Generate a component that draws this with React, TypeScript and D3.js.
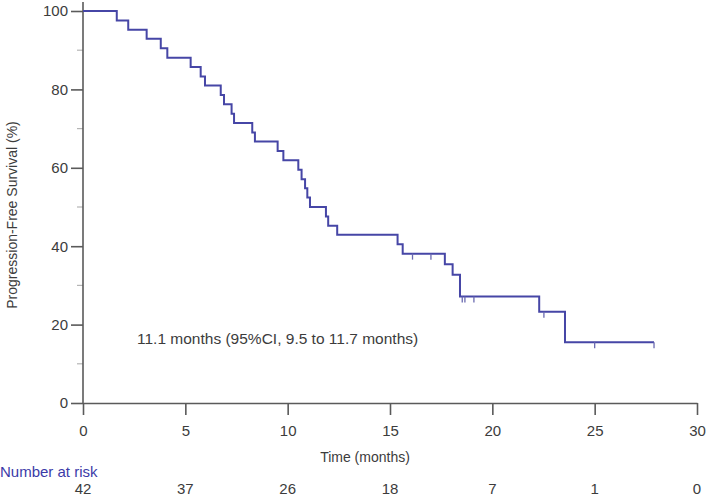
import { useEffect, useRef } from "react";
import * as d3 from "d3";

// ─── Data (read from the Kaplan–Meier plot) ───────────────────────────────────

// time of each drop (months) and survival (%) after it
const EVENT_MONTHS = [
  1.65, 2.21, 3.11, 3.8, 4.12, 5.26, 5.75, 5.96, 6.73, 6.89, 7.26, 7.38, 8.27,
  8.4, 9.51, 9.79, 10.52, 10.68, 10.85, 10.96, 11.09, 11.87, 11.98, 12.42,
  15.37, 15.62, 17.68, 18.06, 18.42, 22.29, 23.55,
];
const SURVIVAL_PCT = [
  97.6, 95.2, 92.9, 90.5, 88.1, 85.7, 83.3, 81.0, 78.6, 76.2, 73.8, 71.4, 69.0,
  66.7, 64.3, 61.9, 59.5, 57.1, 54.8, 52.4, 50.0, 47.6, 45.2, 42.9, 40.5, 38.1,
  35.4, 32.7, 27.2, 23.3, 15.5,
];
const LAST_MONTH = 27.9;
const CENSOR_MONTHS = [16.1, 17.0, 18.53, 18.66, 19.1, 22.52, 25.0, 27.9];

const RISK_MONTHS = [0, 5, 10, 15, 20, 25, 30];
const AT_RISK = [42, 37, 26, 18, 7, 1, 0];

const Y_TICKS = [0, 20, 40, 60, 80, 100];
const Y_MINOR = [10, 30, 50, 70, 90];

const MEDIAN_TEXT = "11.1 months (95%CI, 9.5 to 11.7 months)";

// ─── Palette ──────────────────────────────────────────────────────────────────

const CURVE = "#4646a6";
const AXIS = "#5a5a5a";
const INK = "#3c3c3c";
const BLUE = "#3b3ba8";
const FONT = "'Liberation Sans', Arial, sans-serif";

const W = 709,
  H = 496;

export default function App() {
  const svgRef = useRef<SVGSVGElement>(null);

  useEffect(() => {
    if (!svgRef.current) return;
    const svg = d3.select(svgRef.current);
    svg.selectAll("*").remove();

    const x = d3.scaleLinear().domain([0, 30]).range([83, 697]);
    const y = d3.scaleLinear().domain([0, 100]).range([403, 11]);

    // step points
    const pts: [number, number][] = [[0, 100]];
    EVENT_MONTHS.forEach((t, i) => pts.push([t, SURVIVAL_PCT[i]]));
    pts.push([LAST_MONTH, SURVIVAL_PCT[SURVIVAL_PCT.length - 1]]);

    const levelAt = (t: number) => {
      let s = 100;
      EVENT_MONTHS.forEach((e, i) => {
        if (e <= t) s = SURVIVAL_PCT[i];
      });
      return s;
    };

    // Y axis
    const yAx = svg.append("g").attr("transform", `translate(${x(0)},0)`);
    yAx
      .call(
        d3
          .axisLeft(y)
          .tickValues(Y_TICKS)
          .tickSize(12)
          .tickPadding(3)
          .tickFormat(d3.format("d")),
      )
      .call((ax) => {
        ax.select(".domain").remove();
        ax.selectAll(".tick line").attr("stroke", AXIS).attr("stroke-width", 1.6);
        ax.selectAll(".tick text")
          .attr("fill", INK)
          .attr("font-size", 15)
          .attr("font-family", FONT);
      });
    yAx
      .selectAll(".minor")
      .data(Y_MINOR)
      .enter()
      .append("line")
      .attr("x1", -6)
      .attr("x2", 0)
      .attr("y1", (d) => y(d))
      .attr("y2", (d) => y(d))
      .attr("stroke", "#b5b5b5")
      .attr("stroke-width", 1.2);
    yAx
      .append("line")
      .attr("x1", 0)
      .attr("x2", 0)
      .attr("y1", 2)
      .attr("y2", y(0))
      .attr("stroke", AXIS)
      .attr("stroke-width", 1.6);

    // X axis
    svg
      .append("g")
      .attr("transform", `translate(0,${y(0)})`)
      .call(
        d3
          .axisBottom(x)
          .tickValues(RISK_MONTHS)
          .tickSize(12)
          .tickPadding(10)
          .tickSizeOuter(0),
      )
      .call((ax) => {
        ax.select(".domain").attr("stroke", AXIS).attr("stroke-width", 1.6);
        ax.selectAll(".tick line").attr("stroke", AXIS).attr("stroke-width", 1.6);
        ax.selectAll(".tick text")
          .attr("fill", INK)
          .attr("font-size", 15)
          .attr("font-family", FONT);
      });

    // axis titles
    svg
      .append("text")
      .attr("transform", `translate(17,${215}) rotate(-90)`)
      .attr("text-anchor", "middle")
      .attr("font-size", 14)
      .attr("font-family", FONT)
      .attr("fill", INK)
      .text("Progression-Free Survival (%)");

    svg
      .append("text")
      .attr("x", 365)
      .attr("y", 462)
      .attr("text-anchor", "middle")
      .attr("font-size", 14)
      .attr("font-family", FONT)
      .attr("fill", INK)
      .text("Time (months)");

    // curve
    svg
      .append("path")
      .datum(pts)
      .attr("fill", "none")
      .attr("stroke", CURVE)
      .attr("stroke-width", 2)
      .attr(
        "d",
        d3
          .line()
          .x((d) => x(d[0]))
          .y((d) => y(d[1]))
          .curve(d3.curveStepAfter),
      );

    // censor marks
    svg
      .selectAll(".cens")
      .data(CENSOR_MONTHS)
      .enter()
      .append("line")
      .attr("x1", (d) => x(d))
      .attr("x2", (d) => x(d))
      .attr("y1", (d) => y(levelAt(d)))
      .attr("y2", (d) => y(levelAt(d)) + 6)
      .attr("stroke", "#6a6ab0")
      .attr("stroke-width", 1.3);

    // median annotation
    svg
      .append("text")
      .attr("x", 137)
      .attr("y", 344)
      .attr("font-size", 15.5)
      .attr("font-family", FONT)
      .attr("fill", INK)
      .text(MEDIAN_TEXT);

    // number at risk
    svg
      .append("text")
      .attr("x", 0)
      .attr("y", 477)
      .attr("font-size", 15)
      .attr("font-family", FONT)
      .attr("fill", BLUE)
      .text("Number at risk");

    svg
      .selectAll(".risk")
      .data(RISK_MONTHS)
      .enter()
      .append("text")
      .attr("x", (d) => x(d))
      .attr("y", 494)
      .attr("text-anchor", "middle")
      .attr("font-size", 15)
      .attr("font-family", FONT)
      .attr("fill", INK)
      .text((_, i) => AT_RISK[i]);
  }, []);

  return (
    <svg
      ref={svgRef}
      width={W}
      height={H}
      viewBox={`0 0 ${W} ${H}`}
      style={{ position: "absolute", left: 0, top: 0, background: "#fff" }}
    />
  );
}
